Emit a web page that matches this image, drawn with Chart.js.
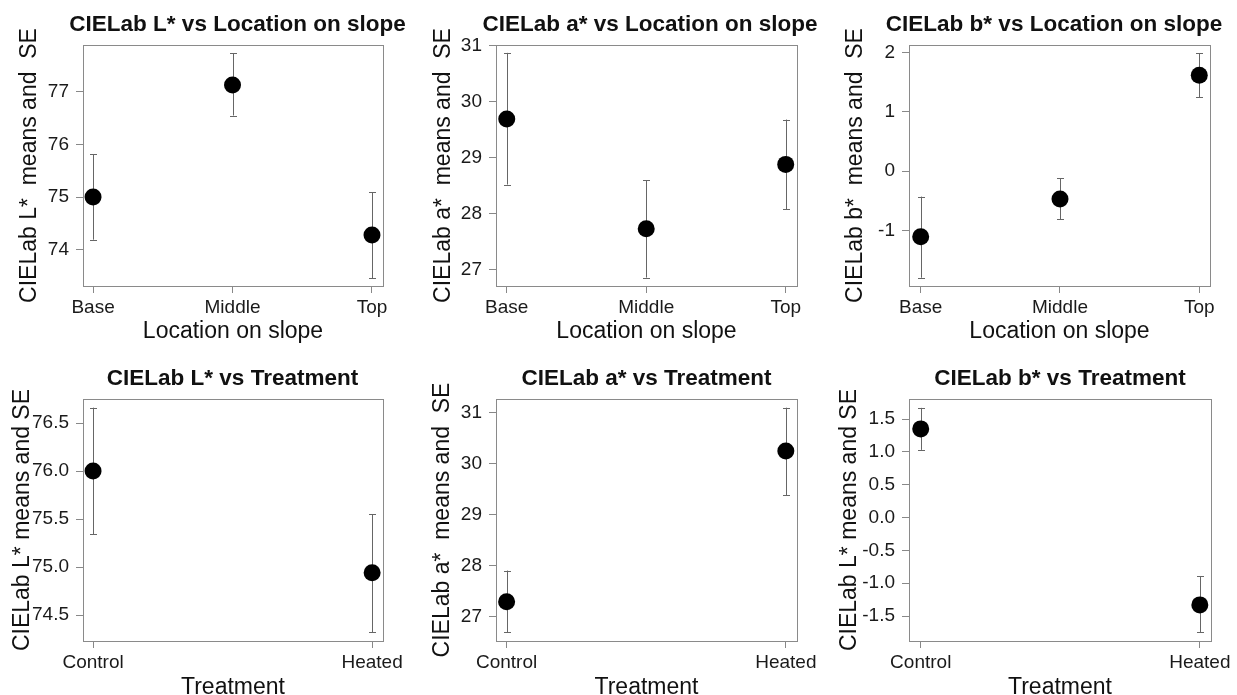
<!DOCTYPE html>
<html>
<head>
<meta charset="utf-8">
<title>CIELab means and SE</title>
<script src="https://cdn.jsdelivr.net/npm/chart.js@4.4.1/dist/chart.umd.min.js"></script>
<style>
  html, body { margin: 0; padding: 0; background: #fff; overflow: hidden; }
  #wrap { position: relative; width: 1237px; height: 695px; overflow: hidden; }
  canvas { position: absolute; }
</style>
</head>
<body>
<div id="wrap">
  <canvas id="c1" width="412" height="345" style="left:0px;top:0px"></canvas>
  <canvas id="c2" width="413" height="345" style="left:412px;top:0px"></canvas>
  <canvas id="c3" width="412" height="345" style="left:825px;top:0px"></canvas>
  <canvas id="c4" width="412" height="360" style="left:0px;top:345px"></canvas>
  <canvas id="c5" width="413" height="360" style="left:412px;top:345px"></canvas>
  <canvas id="c6" width="412" height="360" style="left:825px;top:345px"></canvas>
</div>
<script>
// categories
var slopeLabels = ["Base", "Middle", "Top"];
var treatLabels = ["Control", "Heated"];

// L* by location on slope
var lSlopeMean = [75.0, 77.13, 74.28];
var lSlopeLow = [74.19, 76.55, 73.46];
var lSlopeHigh = [75.81, 77.73, 75.09];
var lSlopeTicks = [74, 75, 76, 77];

// a* by location on slope
var aSlopeMean = [29.69, 27.73, 28.88];
var aSlopeLow = [28.52, 26.86, 28.08];
var aSlopeHigh = [30.87, 28.60, 29.68];
var aSlopeTicks = [27, 28, 29, 30, 31];

// b* by location on slope
var bSlopeMean = [-1.11, -0.47, 1.62];
var bSlopeLow = [-1.80, -0.81, 1.25];
var bSlopeHigh = [-0.43, -0.12, 1.99];
var bSlopeTicks = [-1, 0, 1, 2];

// L* by treatment
var lTreatMean = [76.0, 74.94];
var lTreatLow = [75.34, 74.32];
var lTreatHigh = [76.66, 75.55];
var lTreatTicks = [74.5, 75.0, 75.5, 76.0, 76.5];

// a* by treatment
var aTreatMean = [27.29, 30.24];
var aTreatLow = [26.69, 29.37];
var aTreatHigh = [27.90, 31.09];
var aTreatTicks = [27, 28, 29, 30, 31];

// b* by treatment
var bTreatMean = [1.35, -1.33];
var bTreatLow = [1.03, -1.75];
var bTreatHigh = [1.67, -0.89];
var bTreatTicks = [-1.5, -1.0, -0.5, 0.0, 0.5, 1.0, 1.5];

var FONT = "'Liberation Sans', Arial, Helvetica, sans-serif";

// error bars + frame + panel title
var panelExtras = {
  id: "panelExtras",
  beforeDatasetsDraw: function (chart, args, opts) {
    var ctx = chart.ctx;
    var a = chart.chartArea;
    var xs = chart.scales.x, ys = chart.scales.y;
    ctx.save();
    ctx.strokeStyle = "#8a8a8a";
    ctx.lineWidth = 1;
    ctx.strokeRect(Math.round(a.left) + 0.5, Math.round(a.top) + 0.5,
      Math.round(a.right - a.left), Math.round(a.bottom - a.top));
    ctx.strokeStyle = "#666";
    for (var i = 0; i < opts.low.length; i++) {
      var x = Math.round(xs.getPixelForValue(i)) + 0.5;
      var y1 = ys.getPixelForValue(opts.low[i]);
      var y2 = ys.getPixelForValue(opts.high[i]);
      ctx.beginPath();
      ctx.moveTo(x, y1); ctx.lineTo(x, y2);
      ctx.moveTo(x - 3.5, Math.round(y1) + 0.5); ctx.lineTo(x + 3.5, Math.round(y1) + 0.5);
      ctx.moveTo(x - 3.5, Math.round(y2) + 0.5); ctx.lineTo(x + 3.5, Math.round(y2) + 0.5);
      ctx.stroke();
    }
    ctx.restore();
  },
  afterDraw: function (chart, args, opts) {
    var ctx = chart.ctx;
    var a = chart.chartArea;
    ctx.save();
    ctx.font = "bold 22.5px " + FONT;
    ctx.fillStyle = "#111";
    ctx.textAlign = "center";
    ctx.textBaseline = "alphabetic";
    ctx.fillText(opts.title, (a.left + a.right) / 2 + opts.dx, a.top - 14);
    ctx.restore();
  }
};

function makePanel(id, p) {
  var pts = p.mean.map(function (v, i) { return { x: i, y: v }; });
  var last = p.labels.length - 1;
  new Chart(document.getElementById(id), {
    type: "scatter",
    data: {
      datasets: [{
        data: pts,
        backgroundColor: "#000",
        borderWidth: 0,
        pointRadius: 8.5,
        pointHoverRadius: 8.5,
        clip: false
      }]
    },
    options: {
      responsive: false,
      animation: false,
      events: [],
      layout: { padding: { left: 0, top: p.top, right: p.right, bottom: 0 } },
      plugins: {
        legend: { display: false },
        tooltip: { enabled: false },
        panelExtras: { low: p.low, high: p.high, title: p.title, dx: p.dx }
      },
      scales: {
        x: {
          type: "linear",
          min: p.xmin,
          max: last + p.xmax,
          afterBuildTicks: function (s) {
            s.ticks = p.labels.map(function (l, i) { return { value: i }; });
          },
          afterFit: function (s) { s.height = p.xh; },
          ticks: {
            autoSkip: false, maxRotation: 0, padding: 3,
            color: "#1a1a1a", font: { family: FONT, size: 19 },
            callback: function (v) { return p.labels[Math.round(v)]; }
          },
          grid: { drawOnChartArea: false, drawTicks: true, tickLength: 7, color: "#888" },
          border: { display: false },
          title: {
            display: true, text: p.xtitle, color: "#111",
            font: { family: FONT, size: 23 },
            padding: { top: 0, bottom: p.xtPad }
          }
        },
        y: {
          min: p.ymin,
          max: p.ymax,
          afterBuildTicks: function (s) {
            s.ticks = p.ticks.map(function (v) { return { value: v }; });
          },
          afterFit: function (s) { s.width = p.yw; },
          ticks: {
            padding: 7, color: "#1a1a1a", font: { family: FONT, size: 19 },
            callback: function (v) { return v.toFixed(p.dec); }
          },
          grid: { drawOnChartArea: false, drawTicks: true, tickLength: 7, color: "#888" },
          border: { display: false },
          title: {
            display: true, text: p.ytitle, color: "#111",
            font: { family: FONT, size: 23 },
            padding: { top: p.ytPad, bottom: 0 }
          }
        }
      }
    },
    plugins: [panelExtras]
  });
}

makePanel("c1", {
  title: "CIELab L* vs Location on slope", dx: 4.5,
  xtitle: "Location on slope", ytitle: "CIELab L*  means and  SE",
  labels: slopeLabels, mean: lSlopeMean, low: lSlopeLow, high: lSlopeHigh,
  ticks: lSlopeTicks, dec: 0, ymin: 73.31, ymax: 77.89,
  xmin: -0.072, xmax: 0.079, top: 45, right: 29, yw: 83, xh: 59, ytPad: 16, xtPad: 0
});
makePanel("c2", {
  title: "CIELab a* vs Location on slope", dx: 3.5,
  xtitle: "Location on slope", ytitle: "CIELab a*  means and  SE",
  labels: slopeLabels, mean: aSlopeMean, low: aSlopeLow, high: aSlopeHigh,
  ticks: aSlopeTicks, dec: 0, ymin: 26.71, ymax: 31.01,
  xmin: -0.077, xmax: 0.081, top: 45, right: 28, yw: 84, xh: 59, ytPad: 17.5, xtPad: 0
});
makePanel("c3", {
  title: "CIELab b* vs Location on slope", dx: -5.5,
  xtitle: "Location on slope", ytitle: "CIELab b*  means and  SE",
  labels: slopeLabels, mean: bSlopeMean, low: bSlopeLow, high: bSlopeHigh,
  ticks: bSlopeTicks, dec: 0, ymin: -1.94, ymax: 2.13,
  xmin: -0.084, xmax: 0.077, top: 45, right: 27, yw: 84, xh: 59, ytPad: 17, xtPad: 0
});
makePanel("c4", {
  title: "CIELab L* vs Treatment", dx: -0.5,
  xtitle: "Treatment", ytitle: "CIELab L* means and SE",
  labels: treatLabels, mean: lTreatMean, low: lTreatLow, high: lTreatHigh,
  ticks: lTreatTicks, dec: 1, ymin: 74.23, ymax: 76.75,
  xmin: -0.036, xmax: 0.039, top: 54, right: 29, yw: 83, xh: 64, ytPad: 8.5, xtPad: 4
});
makePanel("c5", {
  title: "CIELab a* vs Treatment", dx: 0,
  xtitle: "Treatment", ytitle: "CIELab a*  means and  SE",
  labels: treatLabels, mean: aTreatMean, low: aTreatLow, high: aTreatHigh,
  ticks: aTreatTicks, dec: 0, ymin: 26.52, ymax: 31.26,
  xmin: -0.038, xmax: 0.04, top: 54, right: 28, yw: 84, xh: 64, ytPad: 16.5, xtPad: 4
});
makePanel("c6", {
  title: "CIELab b* vs Treatment", dx: 0,
  xtitle: "Treatment", ytitle: "CIELab L* means and SE",
  labels: treatLabels, mean: bTreatMean, low: bTreatLow, high: bTreatHigh,
  ticks: bTreatTicks, dec: 1, ymin: -1.88, ymax: 1.805,
  xmin: -0.042, xmax: 0.04, top: 54, right: 26, yw: 84, xh: 64, ytPad: 11, xtPad: 4
});
</script>
</body>
</html>
